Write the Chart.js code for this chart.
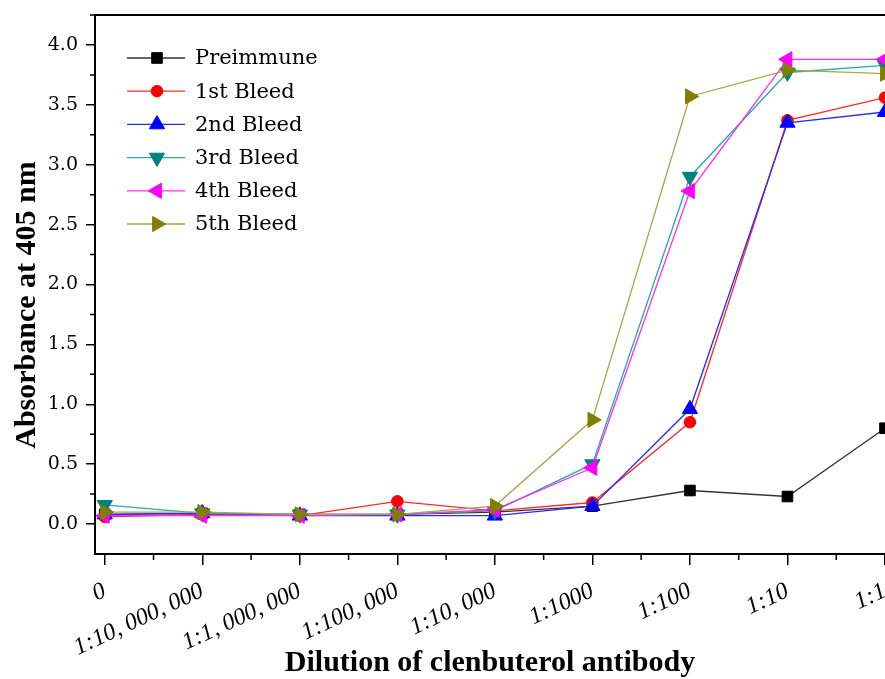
<!DOCTYPE html>
<html><head><meta charset="utf-8">
<script src="https://cdn.jsdelivr.net/npm/chart.js@4/dist/chart.umd.min.js"></script>
<style>html,body{margin:0;padding:0;background:#fff;overflow:hidden}</style>
</head><body>
<canvas id="c" width="885" height="679"></canvas>
<script>
// ---- data ----
const categories = ['0', '1:10, 000, 000', '1:1, 000, 000', '1:100, 000', '1:10, 000', '1:1000', '1:100', '1:10', '1:1'];
const seriesNames = ['Preimmune', '1st Bleed', '2nd Bleed', '3rd Bleed', '4th Bleed', '5th Bleed'];
const preimmune = [0.08, 0.09, 0.08, 0.08, 0.10, 0.15, 0.28, 0.23, 0.80];
const bleed1    = [0.06, 0.08, 0.07, 0.19, 0.11, 0.18, 0.85, 3.37, 3.56];
const bleed2    = [0.08, 0.09, 0.07, 0.07, 0.07, 0.15, 0.96, 3.35, 3.44];
const bleed3    = [0.16, 0.09, 0.08, 0.08, 0.11, 0.50, 2.90, 3.77, 3.83];
const bleed4    = [0.07, 0.07, 0.07, 0.08, 0.12, 0.47, 2.78, 3.88, 3.88];
const bleed5    = [0.10, 0.10, 0.08, 0.08, 0.15, 0.87, 3.57, 3.79, 3.76];
const yTickValues = [0, 0.5, 1.0, 1.5, 2.0, 2.5, 3.0, 3.5, 4.0];

// ---- styles ----
const allSeries = [preimmune, bleed1, bleed2, bleed3, bleed4, bleed5];
const lineColors = ['#333333', '#ff2a2a', '#2a2aff', '#2aaca6', '#ff2aff', '#a6a64a'];
const markColors = ['#000000', '#ff0000', '#0000ff', '#008080', '#ff00ff', '#808000'];
const styles = ['rect', 'circle', 'triangle', 'triangle', 'triangle', 'triangle'];
const rotations = [0, 0, 0, 180, 270, 90];
const radii = [7.5, 5.8, 8.8, 8.8, 8.8, 8.8];

const datasets = allSeries.map((arr, i) => ({
  label: seriesNames[i],
  data: arr.map((v, k) => ({x: k, y: v})),
  borderColor: lineColors[i],
  backgroundColor: markColors[i],
  pointBackgroundColor: markColors[i],
  pointBorderColor: markColors[i],
  pointBorderWidth: 1,
  borderWidth: 1.3,
  pointStyle: styles[i],
  pointRotation: rotations[i],
  pointRadius: radii[i],
  pointHoverRadius: radii[i],
  tension: 0,
  clip: false,
  order: allSeries.length - i
}));

const framePlugin = {
  id: 'frame',
  afterDraw(chart) {
    const ctx = chart.ctx, a = chart.chartArea;
    const xs = chart.scales.x, ys = chart.scales.y;
    ctx.save();
    ctx.strokeStyle = '#000';
    ctx.lineWidth = 2;
    ctx.beginPath();
    ctx.moveTo(a.left - 1, a.top);
    ctx.lineTo(a.right + 2, a.top);
    ctx.stroke();
    ctx.lineWidth = 1.5;
    ctx.beginPath();
    for (let i = 0; i < categories.length - 1; i++) {
      const px = xs.getPixelForValue(i + 0.5);
      ctx.moveTo(px, a.bottom);
      ctx.lineTo(px, a.bottom + 6);
    }
    for (let k = 0; k < yTickValues.length; k++) {
      const py = ys.getPixelForValue(yTickValues[k] + 0.25);
      ctx.moveTo(a.left, py);
      ctx.lineTo(a.left - 5, py);
    }
    ctx.stroke();

    // legend
    const H = Chart.helpers;
    for (let i = 0; i < datasets.length; i++) {
      const y = a.top + 43 + i * 33.2;
      const x0 = a.left + 32, x1 = a.left + 90, xm = a.left + 62;
      ctx.strokeStyle = lineColors[i];
      ctx.lineWidth = 1.3;
      ctx.beginPath(); ctx.moveTo(x0, y); ctx.lineTo(x1, y); ctx.stroke();
      ctx.fillStyle = markColors[i];
      ctx.strokeStyle = markColors[i];
      ctx.lineWidth = 1;
      H.drawPoint(ctx, {pointStyle: styles[i], rotation: rotations[i], radius: radii[i], borderWidth: 1}, xm, y);
      ctx.fillStyle = '#000';
      ctx.font = '21px "DejaVu Serif"';
      ctx.textAlign = 'left';
      ctx.textBaseline = 'middle';
      ctx.fillText(seriesNames[i], a.left + 100, y + 1);
    }

    // y axis title
    ctx.translate(27, 305);
    ctx.rotate(-Math.PI / 2);
    ctx.fillStyle = '#000';
    ctx.font = 'bold 30px "Liberation Serif"';
    ctx.textAlign = 'center';
    ctx.textBaseline = 'middle';
    ctx.fillText('Absorbance at 405 nm', 0, 0);
    ctx.restore();
  }
};

new Chart(document.getElementById('c'), {
  type: 'line',
  data: {datasets},
  plugins: [framePlugin],
  options: {
    responsive: false,
    devicePixelRatio: 1,
    animation: false,
    layout: {autoPadding: false, padding: {top: 15, right: 0, left: 0, bottom: 0}},
    plugins: {legend: {display: false}, tooltip: {enabled: false}},
    scales: {
      x: {
        type: 'linear',
        min: -0.1,
        max: 8,
        afterBuildTicks: s => { s.ticks = categories.map((_, i) => ({value: i})); },
        afterFit: s => { s.height = 125; s.paddingLeft = 0; s.paddingRight = 0; },
        ticks: {
          autoSkip: false,
          maxRotation: 25,
          minRotation: 25,
          padding: 12,
          color: '#000',
          font: {family: '"Liberation Serif"', size: 24, style: 'italic'},
          callback: v => categories[v]
        },
        grid: {drawOnChartArea: false, drawTicks: true, tickLength: 11, color: '#000', lineWidth: 1.5},
        border: {display: true, color: '#000', width: 2},
        title: {
          display: true,
          text: 'Dilution of clenbuterol antibody',
          color: '#000',
          font: {family: '"Liberation Serif"', size: 30, weight: 'bold', lineHeight: 1},
          padding: {top: 0, bottom: 1}
        }
      },
      y: {
        type: 'linear',
        min: -0.25,
        max: 4.25,
        afterBuildTicks: s => { s.ticks = yTickValues.map(v => ({value: v})); },
        afterFit: s => { s.width = 95; s.paddingTop = 0; s.paddingBottom = 0; },
        ticks: {
          padding: 8,
          color: '#000',
          font: {family: '"DejaVu Serif"', size: 19},
          callback: v => Number(v).toFixed(1)
        },
        grid: {drawOnChartArea: false, drawTicks: true, tickLength: 9, color: '#000', lineWidth: 1.5},
        border: {display: true, color: '#000', width: 2}
      }
    }
  }
});
</script>
</body></html>
